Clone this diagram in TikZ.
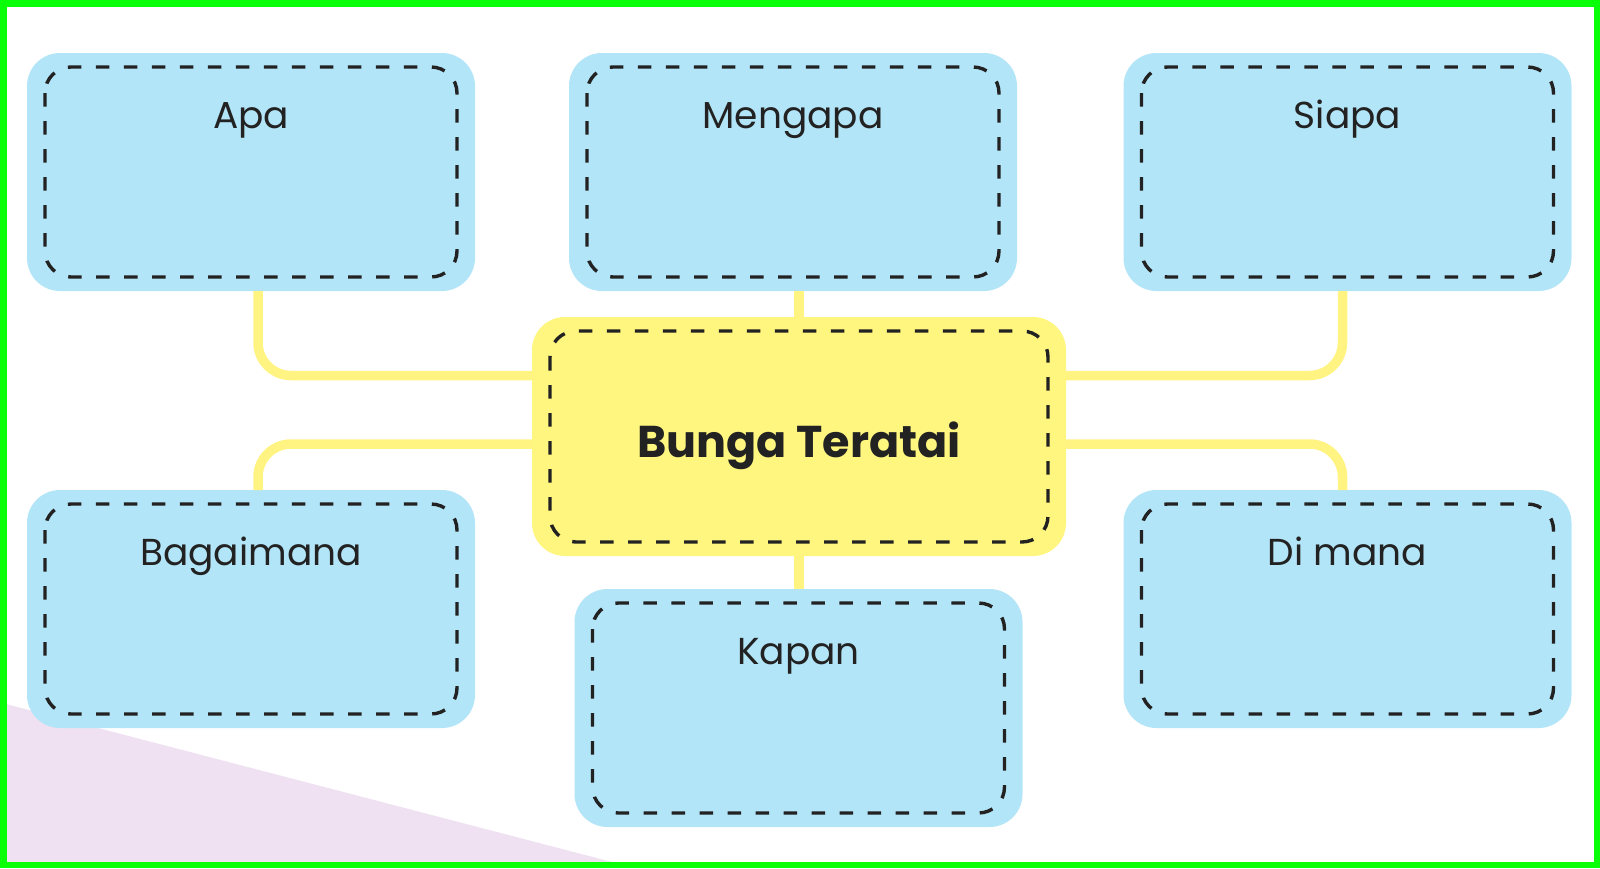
\documentclass[tikz,border=0pt]{standalone}
\usepackage{fontspec}
\setmainfont{Poppins}
\usetikzlibrary{calc}
\definecolor{boxblue}{RGB}{179,229,248}
\definecolor{boxyellow}{RGB}{255,246,128}
\definecolor{connyellow}{RGB}{255,244,130}
\definecolor{dashgray}{RGB}{34,34,34}
\definecolor{framegreen}{RGB}{8,255,8}
\definecolor{lavender}{RGB}{239,225,242}
\tikzset{
  bluebox/.style={fill=boxblue, rounded corners=33pt, minimum width=448pt, minimum height=238pt, inner sep=0pt, outer sep=0pt},
  centerbox/.style={fill=boxyellow, rounded corners=33pt, minimum width=534pt, minimum height=239pt, inner sep=0pt, outer sep=0pt},
  dashline/.style={draw=dashgray, line width=3.4pt, dash pattern=on 13.5pt off 14.5pt, rounded corners=26pt},
  conn/.style={draw=connyellow, line width=9.5pt, rounded corners=33pt},
  lbl/.style={font=\fontsize{37.5}{40}\selectfont, text=dashgray, anchor=base, inner sep=0pt},
  mainlbl/.style={font=\fontsize{44.5}{48}\selectfont\bfseries, text=dashgray, anchor=base, inner sep=0pt}
}
\begin{document}
\begin{tikzpicture}[x=1pt,y=-1pt]
\useasboundingbox (0,0) rectangle (1600,868);
\fill[white] (0,0) rectangle (1600,868);
\fill[lavender] (6,704) -- (612,862) -- (6,862) -- cycle;
% boxes
\node[bluebox] (apa) at (251,172) {};
\node[bluebox] (men) at (793,172) {};
\node[bluebox] (sia) at (1347.5,172) {};
\node[centerbox] (ctr) at (799,436.5) {};
\node[bluebox] (bag) at (251,609) {};
\node[bluebox] (kap) at (798.5,708) {};
\node[bluebox] (dim) at (1347.5,609) {};
% dashed inner outlines
\foreach \n in {apa,men,sia,ctr,bag,kap,dim}{
  \draw[dashline] ([xshift=18pt,yshift=-14pt]\n.north west) rectangle ([xshift=-18pt,yshift=14pt]\n.south east);
}
% labels
\node[lbl] (apa-t) at ([yshift=-75pt]apa.north) {Apa};
\node[lbl] (men-t) at ([yshift=-75pt]men.north) {Mengapa};
\node[lbl] (sia-t) at ([yshift=-75pt]sia.north) {Siapa};
\node[lbl] (bag-t) at ([yshift=-75pt]bag.north) {Bagaimana};
\node[lbl] (kap-t) at ([yshift=-75pt]kap.north) {Kapan};
\node[lbl] (dim-t) at ([yshift=-75pt]dim.north) {Di mana};
\node[mainlbl] (ctr-t) at ([yshift=-20.5pt]ctr.center) {Bunga Teratai};
% connectors
\draw[conn] ([xshift=7pt]apa.south) |- ([yshift=61pt]ctr.west);
\draw[conn] ([xshift=-5pt]sia.south) |- ([yshift=61pt]ctr.east);
\draw[conn] ([yshift=-7.5pt]ctr.west) -| ([xshift=7pt]bag.north);
\draw[conn] ([yshift=-7.5pt]ctr.east) -| ([xshift=-5pt]dim.north);
\draw[conn] (ctr.north) -- (ctr.north |- men.south);
\draw[conn] (ctr.south) -- (ctr.south |- kap.north);
% frame
\draw[framegreen, line width=6.5pt] (3.25,3.25) rectangle (1596.75,864.75);
\end{tikzpicture}
\end{document}
